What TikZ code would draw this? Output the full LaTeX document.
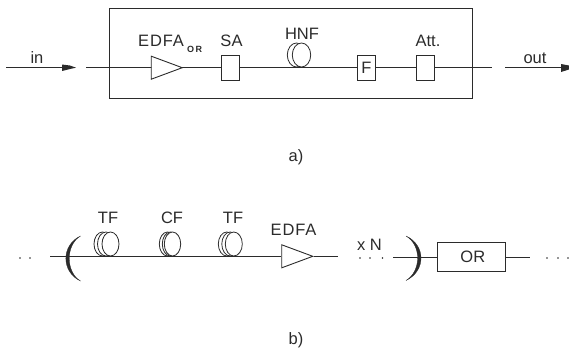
\documentclass[tikz,border=0pt]{standalone}
\usepackage{fontspec}
\setmainfont{Liberation Sans}
\usetikzlibrary{shapes.geometric}
\definecolor{ink}{gray}{0.17}
\newcommand{\labfont}{\fontsize{16.5}{18}\selectfont}
\tikzset{
  x=1pt,y=-1pt,
  wire/.style={draw=ink,line width=0.9pt},
  blockbox/.style={draw=ink,line width=0.9pt,fill=white,minimum width=18pt,minimum height=24.5pt,inner sep=0pt},
  amp/.style={draw=ink,line width=0.9pt,fill=white,isosceles triangle,isosceles triangle apex angle=75,minimum width=23pt,minimum height=31pt,inner sep=0pt,isosceles triangle stretches,anchor=apex},
  lab/.style={text=ink,font=\labfont,inner sep=0pt,anchor=base},
  dotlab/.style={circle,fill=ink,inner sep=0pt,minimum size=1.6pt},
  coilloop/.style={draw=ink,line width=0.8pt,fill=white},
  paren/.style={fill=ink,draw=ink,line width=0.3pt}
}
\begin{document}
\begin{tikzpicture}
\useasboundingbox (0,0) rectangle (569,351);
% a) enclosure
\node[draw=ink,line width=0.9pt,minimum width=363.5pt,minimum height=90.5pt,inner sep=0pt] (frame) at (290.8,53.2) {};
% a) free ends
\coordinate (inL) at (6,67.7);
\coordinate (inR) at (62,67.7);
\coordinate (midL) at (86,67.7);
\coordinate (midR) at (491.6,67.7);
\coordinate (outL) at (505,67.7);
\coordinate (outR) at (561,67.7);
\foreach \d in {0,5}{\draw[coilloop] (296.5+\d,55) ellipse [x radius=9.2pt,y radius=12pt];}
\draw[wire] (midL) -- (midR);
\node[amp] (edfaA) at (183,67.7) {};
\node[blockbox] (sa) at (230,67.8) {};
\node[blockbox] (filt) at (366.3,67.8) {\labfont\color{ink}F};
\node[blockbox] (att) at (425,67.8) {};
\draw[wire] (inL) -- (inR);
\draw[wire] (outL) -- (outR);
\fill[ink] (62,64.5) -- (70,65.5) -- (76,67.7) -- (70,69) -- (62,71) -- cycle;
\fill[ink] (561,64) -- (569,65.5) -- (569,69.5) -- (561,72) -- cycle;
\node[lab] (tin) at (37,63) {in};
\node[lab] (tout) at (535,63) {out};
\node[lab] (tedfa) at (161,46.8) {\addfontfeature{LetterSpace=5}EDFA};
\node[text=ink,font=\fontsize{9}{10}\selectfont\bfseries,inner sep=0pt,anchor=base] (tor) at (194.5,52) {O\,R};
\node[lab] (tsa) at (231.5,46.8) {SA};
\node[lab] (thnf) at (302,39) {HNF};
\node[lab] (tatt) at (428,46.8) {Att.};
\node[lab] (ta) at (296,161) {a)};
% b)
\coordinate (bL) at (50,256.3);
\coordinate (bM) at (338,256.3);
\coordinate (cL) at (393,257);
\coordinate (cR) at (530,257);
\foreach \d in {0,3.5,8}{\draw[coilloop] (102.5+\d,244) ellipse [x radius=8.5pt,y radius=12pt];}
\foreach \d in {0,3,5}{\draw[coilloop] (167.5+\d,244) ellipse [x radius=8.2pt,y radius=12pt];}
\foreach \d in {0,3.5,7}{\draw[coilloop] (226.8+\d,244) ellipse [x radius=8.5pt,y radius=12pt];}
\node[amp] (edfaB) at (313.5,256.3) {};
\node[blockbox,minimum width=67.5pt,minimum height=28.5pt] (or) at (471.3,257) {\labfont\color{ink}\hspace*{3pt}OR};
\draw[wire] (bL) -- (edfaB.west);
\draw[wire] (edfaB.east) -- (bM);
\draw[wire] (cL) -- (or.west);
\draw[wire] (or.east) -- (cR);
% brackets
\fill[paren] (80.5,236) .. controls (61,245) and (61,272) .. (80.5,281) .. controls (65.5,272) and (65.5,245) .. (80.5,236) -- cycle;
\fill[paren] (406,236) .. controls (426,245) and (426,271) .. (406,280.5) .. controls (421.5,271) and (421.5,245) .. (406,236) -- cycle;
% dots
\foreach \px in {20,30,360,370,382.5,547,558,568}{\node[dotlab] at (\px,258) {};}
\node[lab] (ttf1) at (108,223) {TF};
\node[lab] (tcf) at (172,223) {CF};
\node[lab] (ttf2) at (233,223) {TF};
\node[lab] (tedfab) at (293.5,235) {\addfontfeature{LetterSpace=5}EDFA};
\node[lab] (txn) at (369.5,250) {x N};
\node[lab] (tb) at (296,344) {b)};
\end{tikzpicture}
\end{document}
